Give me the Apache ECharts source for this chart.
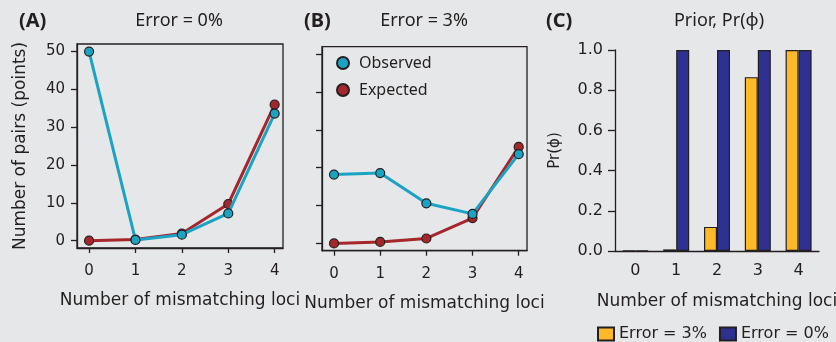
<!DOCTYPE html>
<html>
<head>
<meta charset="utf-8">
<script src="https://cdn.jsdelivr.net/npm/echarts@6/dist/echarts.min.js"></script>
<style>
  html, body { margin: 0; padding: 0; background: #E6E7E8; }
  #chart { width: 836px; height: 342px; }
</style>
</head>
<body>
<div id="chart"></div>
<script>
// data
var loci = [0, 1, 2, 3, 4];
var observedA = [50, 0.2, 1.6, 7.2, 33.6]; // Error = 0%
var expectedA = [0, 0.3, 1.9, 9.7, 36.0];
var observedB = [18.2, 18.6, 10.6, 7.8, 23.6]; // Error = 3%
var expectedB = [0, 0.4, 1.3, 6.7, 25.5];
var prior3 = [0.002, 0.008, 0.12, 0.865, 1.0]; // Error = 3%
var prior0 = [0.002, 1.0, 1.0, 1.0, 1.0]; // Error = 0%
var pairTicks = [0, 10, 20, 30, 40, 50];

var ink = "#231F20";
var cyan = "#1BA3C4";
var red = "#A5262B";
var yellow = "#FDB927";
var navy = "#2E3192";

function pts(vals) {
  return loci.map(function (x, i) {
    return [x, vals[i]];
  });
}

function lineSeries(name, vals, color, idx, z) {
  return {
    name: name,
    type: "line",
    xAxisIndex: idx,
    yAxisIndex: idx,
    data: pts(vals),
    symbol: "circle",
    symbolSize: 9,
    z: z,
    lineStyle: { width: 3, color: color },
    itemStyle: { color: color, borderColor: ink, borderWidth: 1.2 },
  };
}

function pairX(idx) {
  return {
    gridIndex: idx,
    type: "value",
    min: -0.26,
    max: 4.18,
    splitLine: { show: false },
    axisLine: { show: true, onZero: false, lineStyle: { color: ink, width: 1.3 } },
    axisTick: { customValues: loci, length: 5, lineStyle: { color: ink, width: 1.3 } },
    axisLabel: { customValues: loci, fontSize: 15, margin: 16, color: ink },
    name: "Number of mismatching loci",
    nameLocation: "middle",
    nameGap: 44,
    nameTextStyle: { fontSize: 17, color: ink },
  };
}

function pairY(idx, labels) {
  var ax = {
    gridIndex: idx,
    type: "value",
    min: -1.93,
    max: 52,
    splitLine: { show: false },
    axisLine: { show: true, onZero: false, lineStyle: { color: ink, width: 1.3 } },
    axisTick: { customValues: pairTicks, length: 6, lineStyle: { color: ink, width: 1.3 } },
    axisLabel: { show: labels, customValues: pairTicks, fontSize: 15, margin: 12, color: ink },
  };
  if (labels) {
    ax.name = "Number of pairs (points)";
    ax.nameLocation = "middle";
    ax.nameGap = 48;
    ax.nameTextStyle = { fontSize: 17, color: ink };
  }
  return ax;
}

var titleFont = { fontFamily: "Noto Sans", fontSize: 18, fontWeight: "normal", color: ink };
var tagFont = { fontFamily: "Noto Sans", fontSize: 20, fontWeight: "bold", color: ink };

var myChart = echarts.init(document.getElementById("chart"));

var option = {
  backgroundColor: "#E6E7E8",
  animation: false,
  textStyle: { fontFamily: "DejaVu Sans", color: ink },
  title: [
    { text: "(A)", left: 19, top: 11, padding: 0, textStyle: tagFont },
    { text: "Error = 0%", left: 179, top: 12, padding: 0, textAlign: "center", textStyle: titleFont },
    { text: "(B)", left: 304, top: 11, padding: 0, textStyle: tagFont },
    { text: "Error = 3%", left: 424, top: 12, padding: 0, textAlign: "center", textStyle: titleFont },
    { text: "(C)", left: 546, top: 11, padding: 0, textStyle: tagFont },
    { text: "Prior, Pr(ϕ)", left: 719, top: 12, padding: 0, textAlign: "center", textStyle: titleFont },
  ],
  legend: [
    {
      data: ["Observed", "Expected"],
      orient: "vertical",
      left: 336,
      top: 55,
      padding: 0,
      icon: "circle",
      itemWidth: 12,
      itemHeight: 12,
      itemGap: 11,
      textStyle: { fontFamily: "Noto Sans", fontSize: 16, color: ink, padding: [0, 0, 0, 5] },
    },
    {
      data: ["Error = 3%", "Error = 0%"],
      left: 597,
      top: 326,
      width: 260,
      padding: 0,
      icon: "rect",
      itemWidth: 16,
      itemHeight: 13,
      itemGap: 12,
      textStyle: { fontSize: 16, color: ink },
    },
  ],
  grid: [
    { left: 77, top: 44, width: 206, height: 204, show: true, borderColor: ink, borderWidth: 1.3, outerBoundsMode: "none" },
    { left: 322, top: 46.7, width: 205, height: 204, show: true, borderColor: ink, borderWidth: 1.3, outerBoundsMode: "none" },
    { left: 615, top: 50, width: 204, height: 201, outerBoundsMode: "none" },
  ],
  xAxis: [
    pairX(0),
    pairX(1),
    {
      gridIndex: 2,
      type: "category",
      data: loci,
      axisLine: { show: true, lineStyle: { color: ink, width: 1.3 } },
      axisTick: { show: false },
      axisLabel: { fontSize: 16, margin: 12, color: ink },
      name: "Number of mismatching loci",
      nameLocation: "middle",
      nameGap: 42,
      nameTextStyle: { fontSize: 17, color: ink },
    },
  ],
  yAxis: [
    pairY(0, true),
    pairY(1, false),
    {
      gridIndex: 2,
      type: "value",
      min: 0,
      max: 1,
      interval: 0.2,
      splitLine: { show: false },
      axisLine: { show: true, lineStyle: { color: ink, width: 1.3 } },
      axisTick: { show: true, length: 7, lineStyle: { color: ink, width: 1.3 } },
      axisLabel: {
        fontSize: 16,
        margin: 12,
        color: ink,
        formatter: function (v) {
          return v.toFixed(1);
        },
      },
      name: "Pr(ϕ)",
      nameLocation: "middle",
      nameGap: 52,
      nameTextStyle: { fontSize: 15, color: ink },
    },
  ],
  series: [
    lineSeries("Expected", expectedA, red, 0, 2),
    lineSeries("Observed", observedA, cyan, 0, 3),
    lineSeries("Expected", expectedB, red, 1, 2),
    lineSeries("Observed", observedB, cyan, 1, 3),
    {
      name: "Error = 3%",
      type: "bar",
      xAxisIndex: 2,
      yAxisIndex: 2,
      data: prior3,
      barWidth: 13,
      barGap: "0%",
      itemStyle: { color: yellow, borderColor: ink, borderWidth: 1.2 },
    },
    {
      name: "Error = 0%",
      type: "bar",
      xAxisIndex: 2,
      yAxisIndex: 2,
      data: prior0,
      barWidth: 13,
      barGap: "0%",
      itemStyle: { color: navy, borderColor: ink, borderWidth: 1.2 },
    },
  ],
};

myChart.setOption(option);
</script>
</body>
</html>
